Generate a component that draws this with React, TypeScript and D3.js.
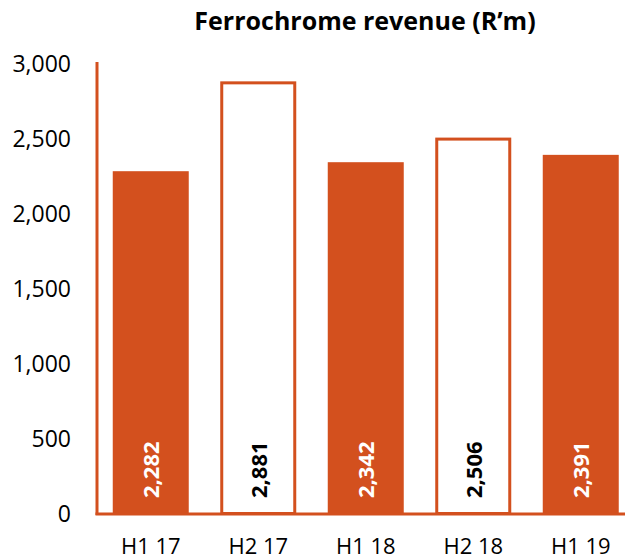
import * as d3 from 'd3'

const periods = ['H1 17', 'H2 17', 'H1 18', 'H2 18', 'H1 19']
const revenue = [2282, 2881, 2342, 2506, 2391]
const filled = [true, false, true, false, true]
const yTicks = [0, 500, 1000, 1500, 2000, 2500, 3000]

const W = 625
const H = 559
const ORANGE = '#D3501E'
const FONT = '"Open Sans", Lato, sans-serif'

export default function App() {
  const x = d3
    .scaleBand<string>()
    .domain(periods)
    .range([97, 634.5])
    .paddingInner(0.293)
    .paddingOuter(0.1465)
  const y = d3.scaleLinear().domain([0, 3000]).range([513.5, 63.5])
  const fmt = d3.format(',')

  return (
    <svg width={W} height={H} style={{ position: 'absolute', left: 0, top: 0 }} fontFamily={FONT}>
      <text x={365} y={30} textAnchor="middle" fontSize={25} fontWeight="bold" fill="#000">
        Ferrochrome revenue (R’m)
      </text>

      {yTicks.map((t) => (
        <text key={t} x={71} y={y(t) + 8} textAnchor="end" fontSize={23} fill="#000">
          {fmt(t)}
        </text>
      ))}

      {periods.map((p, i) => {
        const bx = x(p)!
        const bw = x.bandwidth()
        const top = y(revenue[i])
        const cx = bx + bw / 2
        return (
          <g key={p}>
            {filled[i] ? (
              <rect x={bx} y={top} width={bw} height={y(0) - top} fill={ORANGE} />
            ) : (
              <rect
                x={bx + 1.5}
                y={top + 1.5}
                width={bw - 3}
                height={y(0) - top - 1.5}
                fill="#fff"
                stroke={ORANGE}
                strokeWidth={3}
              />
            )}
            <text
              transform={`translate(${cx + 8.5},${y(0) - 15.5}) rotate(-90)`}
              fontSize={22}
              fontWeight="bold"
              fill={filled[i] ? '#fff' : '#000'}
            >
              {fmt(revenue[i])}
            </text>
            <text x={cx} y={554} textAnchor="middle" fontSize={22} fill="#000">
              {p}
            </text>
          </g>
        )
      })}

      <line x1={97} x2={97} y1={62} y2={515} stroke={ORANGE} strokeWidth={3} />
      <line x1={95.5} x2={625} y1={514} y2={514} stroke={ORANGE} strokeWidth={3} />
    </svg>
  )
}
